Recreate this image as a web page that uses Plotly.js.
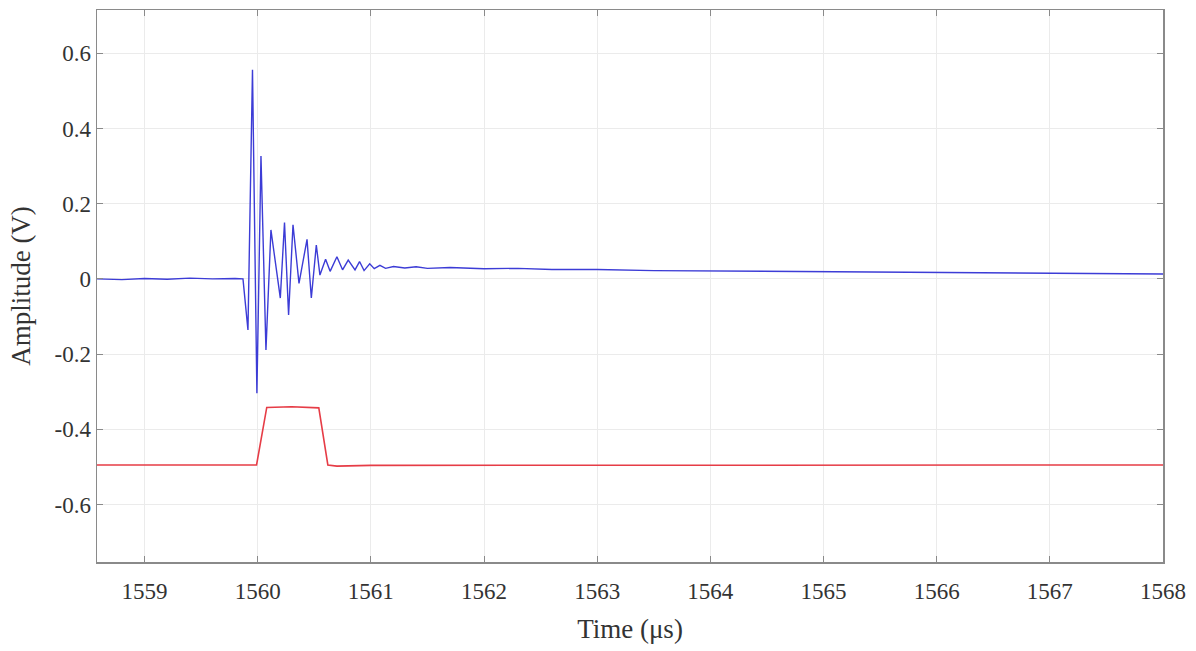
<!DOCTYPE html>
<html>
<head>
<meta charset="utf-8">
<script src="https://cdn.plot.ly/plotly-3.0.1.min.js"></script>
<style>html,body{margin:0;padding:0;background:#fff;}#chart{width:1196px;height:651px;}</style>
</head>
<body>
<div id="chart"></div>
<script>
// Received ultrasonic signal (blue)
const timeBlue = [1558.58, 1558.8, 1559.0, 1559.2, 1559.4, 1559.6, 1559.8, 1559.87,
  1559.914, 1559.954, 1559.993, 1560.029, 1560.073, 1560.117, 1560.20, 1560.237,
  1560.273, 1560.312, 1560.365, 1560.436, 1560.474, 1560.518, 1560.55, 1560.60,
  1560.64, 1560.70, 1560.75, 1560.80, 1560.86, 1560.90, 1560.94, 1560.99,
  1561.03, 1561.08, 1561.13, 1561.2, 1561.3, 1561.4, 1561.5, 1561.7,
  1562.0, 1562.3, 1562.6, 1563.0, 1563.5, 1564.0, 1564.5, 1565.0,
  1565.5, 1566.0, 1566.5, 1567.0, 1567.5, 1568.0];
const ampBlue = [0.000, -0.002, 0.001, -0.001, 0.002, 0.000, 0.001, 0.000,
  -0.136, 0.556, -0.304, 0.327, -0.189, 0.130, -0.051, 0.150,
  -0.096, 0.144, -0.012, 0.105, -0.051, 0.090, 0.010, 0.052,
  0.020, 0.059, 0.024, 0.050, 0.024, 0.046, 0.022, 0.040,
  0.027, 0.036, 0.028, 0.033, 0.029, 0.032, 0.028, 0.030,
  0.027, 0.028, 0.025, 0.025, 0.022, 0.021, 0.020, 0.019,
  0.018, 0.017, 0.016, 0.016, 0.014, 0.013];

// Excitation pulse (red)
const timeRed = [1558.58, 1559.99, 1560.08, 1560.30, 1560.54, 1560.62, 1560.70, 1561.0, 1568.0];
const ampRed = [-0.495, -0.495, -0.342, -0.340, -0.343, -0.495, -0.498, -0.496, -0.495];

const xTicks = [1559, 1560, 1561, 1562, 1563, 1564, 1565, 1566, 1567, 1568];
const yTicks = [-0.6, -0.4, -0.2, 0, 0.2, 0.4, 0.6];
const yTickText = ['-0.6', '-0.4', '-0.2', '0', '0.2', '0.4', '0.6'];

const font = "Liberation Serif";

const traces = [
  {x: timeBlue, y: ampBlue, type: 'scatter', mode: 'lines',
   line: {color: '#3c3cd6', width: 1.4}, hoverinfo: 'skip'},
  {x: timeRed, y: ampRed, type: 'scatter', mode: 'lines',
   line: {color: '#e63c46', width: 1.6}, hoverinfo: 'skip'}
];

const axisCommon = {
  showline: true, mirror: 'ticks', linecolor: '#8a8a8a', linewidth: 1.5,
  ticks: 'inside', ticklen: 6, tickcolor: '#8a8a8a', tickwidth: 1,
  showgrid: true, gridcolor: '#ebebeb', gridwidth: 1, zeroline: false,
  tickfont: {family: font, size: 23, color: '#333'}
};

const layout = {
  width: 1196, height: 651,
  margin: {l: 97, r: 33, t: 10, b: 89},
  paper_bgcolor: '#fff', plot_bgcolor: '#fff',
  showlegend: false,
  xaxis: Object.assign({}, axisCommon, {
    range: [1558.58, 1568.0], tickvals: xTicks, ticktext: xTicks.map(String),
    ticklabelstandoff: 8,
    title: {text: 'Time (μs)', font: {family: font, size: 27, color: '#333'}, standoff: 16}
  }),
  yaxis: Object.assign({}, axisCommon, {
    range: [-0.753, 0.715], tickvals: yTicks, ticktext: yTickText,
    title: {text: 'Amplitude (V)', font: {family: font, size: 27, color: '#333'}, standoff: 16}
  })
};

Plotly.newPlot('chart', traces, layout, {staticPlot: true, displayModeBar: false});
</script>
</body>
</html>
